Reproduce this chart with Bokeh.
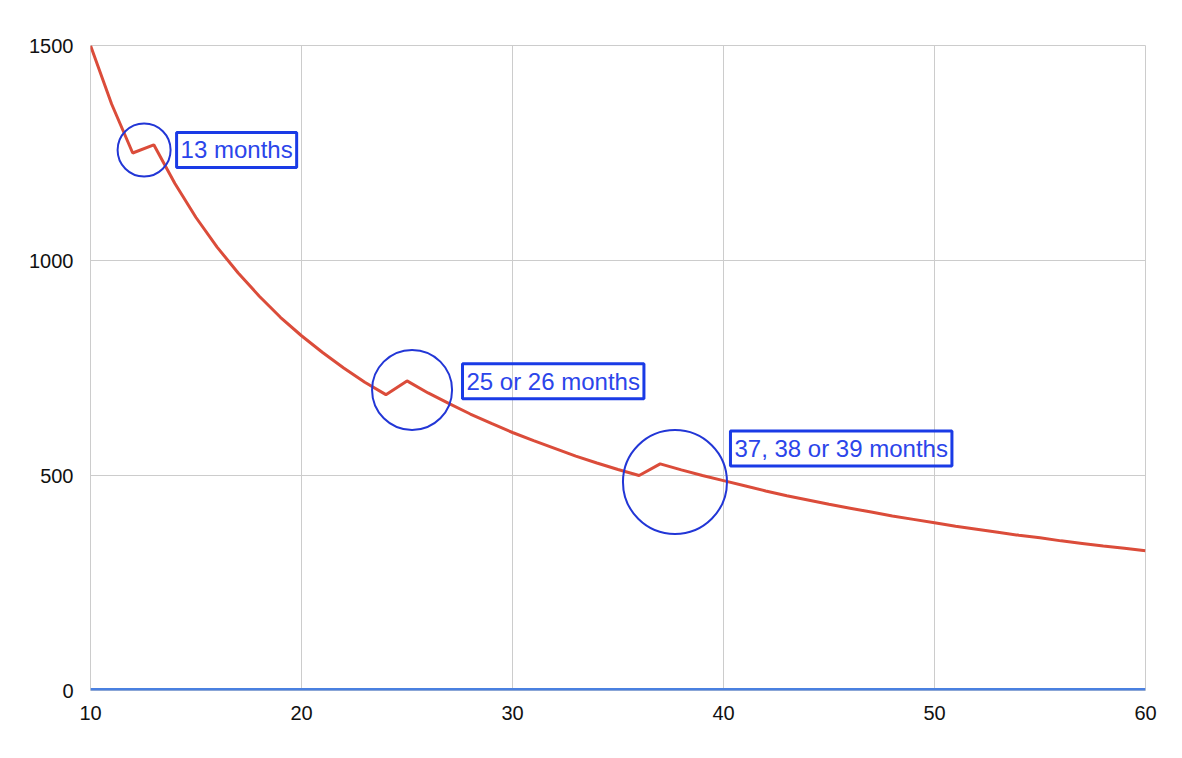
from bokeh.plotting import figure
from bokeh.models import Label, Range1d, FixedTicker
from bokeh.embed import file_html
from bokeh.resources import INLINE

months = list(range(10, 61))
price = [1500, 1364, 1250, 1269, 1179, 1100, 1031, 971, 917, 868,
         825, 786, 750, 717, 688, 720, 692, 667, 643, 621,
         600, 581, 563, 545, 529, 514, 500, 527, 513, 500,
         488, 476, 464, 453, 443, 433, 424, 415, 406, 398,
         390, 382, 375, 368, 361, 355, 348, 342, 336, 331, 325]
baseline = [0] * len(months)

x_ticks = [10, 20, 30, 40, 50, 60]
y_ticks = [0, 500, 1000, 1500]

circle_x = [12.54, 25.24, 37.70]
circle_y = [1257, 699, 485]
circle_d = [53, 80, 104]

label_x = [14.08, 27.63, 40.33]
label_y = [1257, 719, 563]
label_text = ["13 months", "25 or 26 months", "37, 38 or 39 months"]

p = figure(frame_width=1055, frame_height=645, output_backend="svg",
           toolbar_location=None, x_range=Range1d(10, 60), y_range=Range1d(0, 1500),
           min_border_left=90, min_border_top=45, min_border_right=21, min_border_bottom=52)

p.outline_line_color = "#cccccc"
p.xgrid.grid_line_color = "#cccccc"
p.ygrid.grid_line_color = "#cccccc"
p.xaxis.ticker = FixedTicker(ticks=x_ticks)
p.yaxis.ticker = FixedTicker(ticks=y_ticks)
for ax in (p.xaxis, p.yaxis):
    ax.axis_line_color = None
    ax.major_tick_line_color = None
    ax.minor_tick_line_color = None
    ax.major_label_text_font = "Liberation Sans"
    ax.major_label_text_font_size = "20px"
    ax.major_label_text_color = "#111111"
p.xaxis.major_label_standoff = 9
p.yaxis.major_label_standoff = 11

p.line(months, baseline, line_color="#4a80e0", line_width=5)
p.line(months, price, line_color="#db4c3a", line_width=3)

p.scatter(circle_x, circle_y, size=circle_d, marker="circle",
          fill_alpha=0, line_color="#2236d6", line_width=2)

for lx, ly, t in zip(label_x, label_y, label_text):
    p.add_layout(Label(x=lx, y=ly, text=t, text_align="left", text_baseline="middle",
                       text_font="Liberation Sans", text_font_size="24px",
                       text_color="#2b45ea", border_line_color="#1a3be6",
                       border_line_width=3, padding=4))

open("out.html", "w").write(file_html(p, INLINE))
